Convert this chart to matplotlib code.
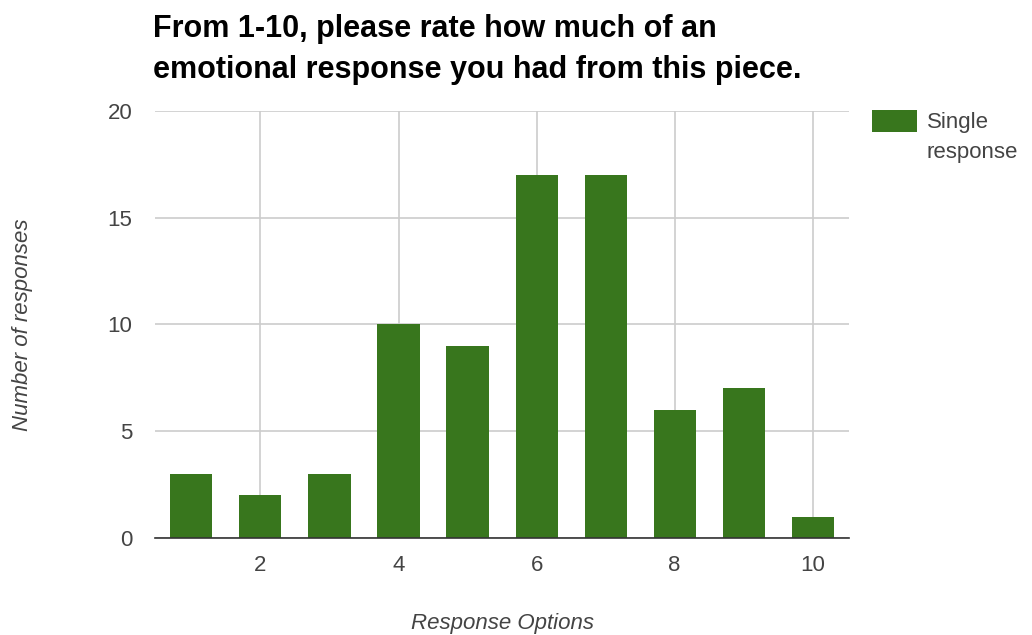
import matplotlib.pyplot as plt
from matplotlib.patches import Rectangle

plt.rcParams['font.family'] = ['Liberation Sans', 'DejaVu Sans']

# Survey results
ratings = [1, 2, 3, 4, 5, 6, 7, 8, 9, 10]
counts = [3, 2, 3, 10, 9, 17, 17, 6, 7, 1]
x_ticks = [2, 4, 6, 8, 10]
y_ticks = [0, 5, 10, 15, 20]
series_name = 'Single\nresponse'

bar_color = '#38761d'
grid_color = '#cccccc'
text_color = '#444444'

fig = plt.figure(figsize=(10.32, 6.35), dpi=100)
ax = fig.add_axes([0.150, 0.153, 0.673, 0.672])

ax.bar(ratings, counts, width=0.61, color=bar_color, zorder=3)

ax.set_xlim(0.47, 10.53)
ax.set_ylim(0, 20)
ax.set_xticks(x_ticks)
ax.set_yticks(y_ticks)
ax.grid(True, color=grid_color, linewidth=1.2, zorder=0)
for s in ['top', 'right', 'left']:
    ax.spines[s].set_visible(False)
ax.spines['bottom'].set_color('#333333')
ax.spines['bottom'].set_linewidth(1.2)
ax.spines['bottom'].set_zorder(4)
ax.tick_params(length=0, labelsize=16, colors=text_color)
ax.tick_params(axis='x', pad=12)
ax.tick_params(axis='y', pad=16)

ax.set_xlabel('Response Options', fontsize=16, style='italic', color=text_color, labelpad=27)
ax.set_ylabel('Number of responses', fontsize=16, style='italic', color=text_color, labelpad=54)

fig.text(0.148, 0.978, 'From 1-10, please rate how much of an\nemotional response you had from this piece.',
         fontsize=22, fontweight='bold', color='#000000', va='top', ha='left', linespacing=1.47)

# legend: swatch aligned with the first line of the label
fig.patches.append(Rectangle((0.845, 0.792), 0.0436, 0.0346, transform=fig.transFigure,
                             facecolor=bar_color, edgecolor='none'))
fig.text(0.898, 0.824, series_name, fontsize=16, color=text_color, va='top', ha='left',
         linespacing=1.55)

fig.savefig('out.png', dpi=100)
